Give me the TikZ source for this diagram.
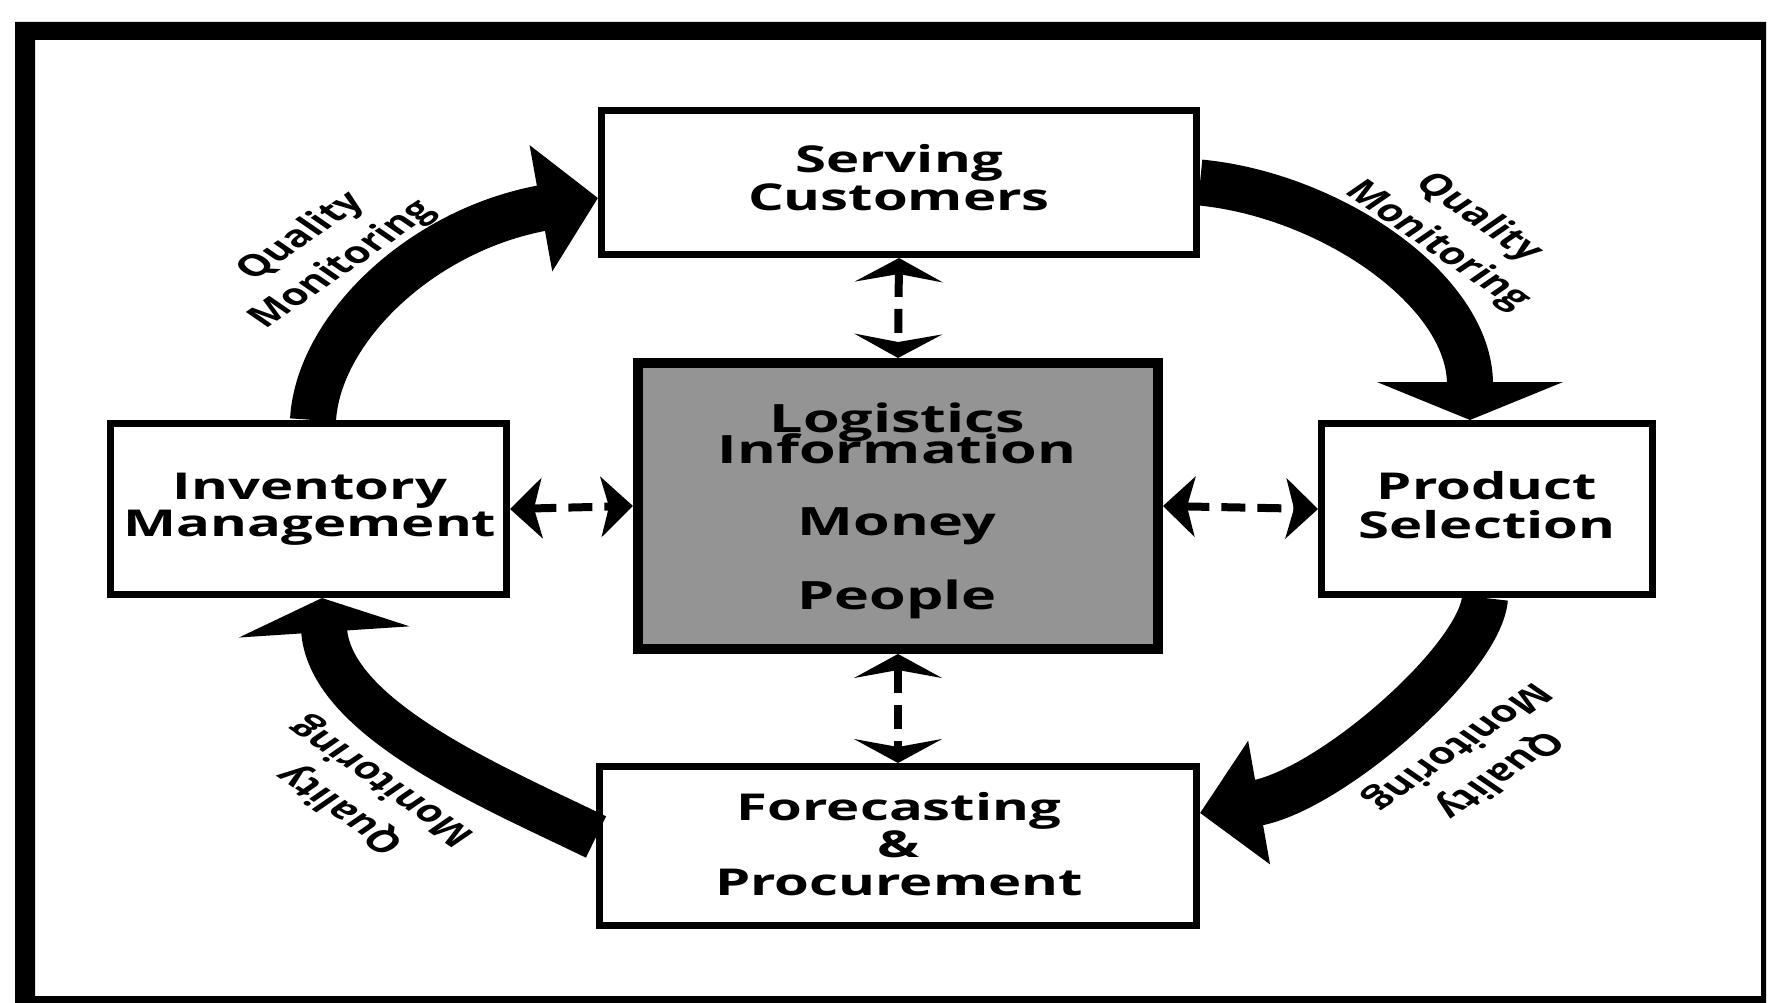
\documentclass[tikz,border=0pt]{standalone}
\usepackage{fontspec}
\setmainfont{Open Sans}
\usepackage{graphicx}
\usetikzlibrary{arrows.meta}
\newcommand{\hs}{1.45}
\newcommand{\bs}{1.52}
\newcommand{\boxtext}[3]{\scalebox{\bs}[1]{\fontsize{#1}{#2}\selectfont\bfseries\begin{tabular}{@{}c@{}}#3\end{tabular}}}
\newcommand{\qm}[1]{\scalebox{\hs}[1]{\rotatebox{#1}{\fontsize{30}{40}\selectfont\bfseries\begin{tabular}{@{}c@{}}Quality\\Monitoring\end{tabular}}}}
\begin{document}
\begin{tikzpicture}[x=1pt,y=-1pt,
  box/.style={draw=black, line width=7pt, fill=white, inner sep=0pt, outer sep=3.5pt},
  hubbox/.style={draw=black, line width=10pt, fill=black!42, inner sep=0pt, outer sep=5pt},
  lbl/.style={inner sep=0pt},
  big/.style={line width=46pt, draw=black},
  dashconn/.style={line width=8pt, draw=black, dash pattern=on 24pt off 12pt},
  vtip/.style={{Stealth[length=24pt,width=88pt,inset=8pt]}-{Stealth[length=24pt,width=88pt,inset=8pt]}},
  htip/.style={{Stealth[length=32pt,width=60pt,inset=8pt]}-{Stealth[length=32pt,width=60pt,inset=8pt]}}
]
\useasboundingbox (0,0) rectangle (1768,1003);
\fill[white] (0,0) rectangle (1768,1003);
% frame
\fill[black, even odd rule] (15,22) rectangle (1766,1003) (35,40) rectangle (1761,996);

% boxes
\node[box, minimum width=595pt, minimum height=144pt] (serve) at (899,182.5) {};
\node[hubbox, minimum width=520pt, minimum height=286pt] (hub) at (898,506) {};
\node[box, minimum width=396pt, minimum height=171pt] (inv) at (308.5,509) {};
\node[box, minimum width=331pt, minimum height=171pt] (prod) at (1487,509) {};
\node[box, minimum width=597pt, minimum height=159pt] (fore) at (898,846) {};

% texts
\node[lbl] (tserve) at (899,183) {\boxtext{37}{36}{Serving\\Customers}};
\node[lbl] (tinv) at (310,510) {\boxtext{37}{34}{Inventory\\Management}};
\node[lbl] (tprod) at (1487,510) {\boxtext{37}{34}{Product\\Selection}};
\node[lbl] (tfore) at (899,849) {\boxtext{37}{36}{Forecasting\\\&\\Procurement}};
\node[lbl] (thub) at (897,512) {\boxtext{39}{40}{Logistics\\[-10pt]Information\\[32pt]Money\\[32pt]People}};

% big curved arrows
\draw[big, -{Triangle[length=58pt,width=125pt]}] ([xshift=4.5pt]inv.north) .. controls (318,330) and (420,230) .. ([yshift=-15.5pt]serve.west);
\draw[big, -{Triangle[length=38pt,width=185pt]}] (serve.east) .. controls (1330,195) and (1470,290) .. ([xshift=-17pt]prod.north);
\draw[big, -{Triangle[length=60pt,width=122pt]}] ([xshift=-2pt]prod.south) .. controls (1480,660) and (1330,790) .. ([yshift=33pt]fore.east);
\draw[big, -{Triangle[length=34pt,width=170pt]}] ([yshift=9pt]fore.west) .. controls (500,790) and (330,720) .. ([xshift=13.5pt]inv.south);

% labels
\node[lbl] (qtl) at (322,251) {\qm{45}};
\node[lbl] (qtr) at (1458,232) {\qm{-45}};
\node[lbl] (qbr) at (1478,760) {\qm{-135}};
\node[lbl] (qbl) at (362,795) {\qm{135}};

% dashed connectors
\draw[dashconn, vtip] (serve.south) -- (hub.north);
\draw[dashconn, vtip] (hub.south) -- (fore.north);
\draw[dashconn, htip] (inv.east) -- (hub.west);
\draw[dashconn, htip] (hub.east) -- (prod.west);
\end{tikzpicture}
\end{document}
